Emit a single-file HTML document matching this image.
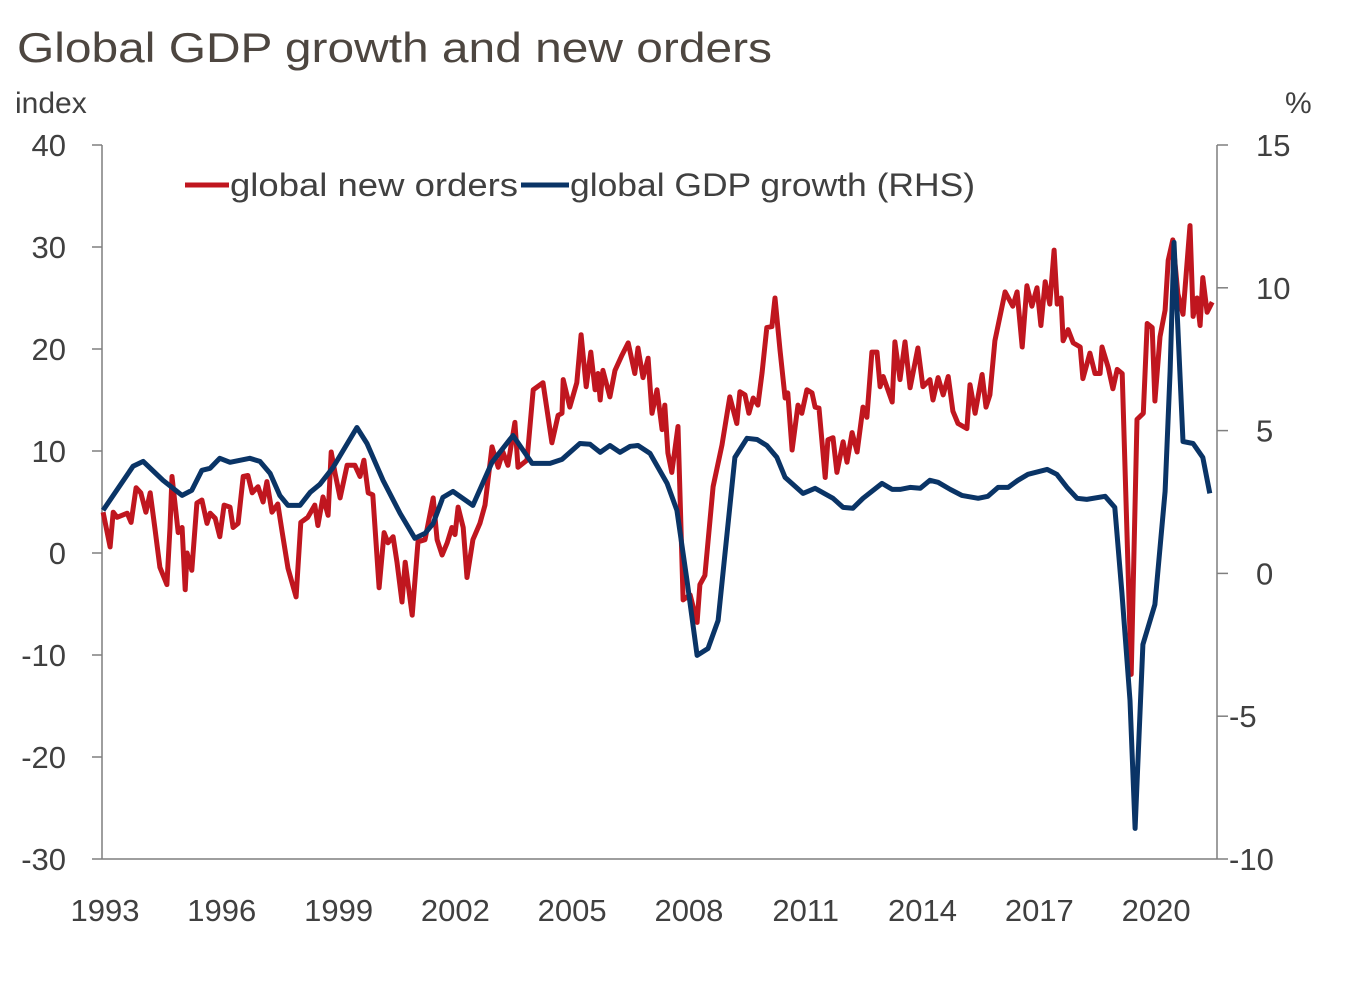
<!DOCTYPE html>
<html><head><meta charset="utf-8"><style>
html,body{margin:0;padding:0;background:#fff;}
svg{display:block;font-family:"Liberation Sans",sans-serif;}
</style></head><body>
<svg id="chart" width="1346" height="992" viewBox="0 0 1346 992">
<text x="17" y="62" font-size="42" fill="#4d4640" textLength="755" lengthAdjust="spacingAndGlyphs">Global GDP growth and new orders</text>
<text x="15" y="113" font-size="30" fill="#404040">index</text>
<text x="1285" y="113" font-size="30" fill="#404040">%</text>
<g id="axes"></g>
<g id="series"></g>
<g>
<line x1="185" y1="185" x2="229" y2="185" stroke="#c0161f" stroke-width="5"/>
<text x="230" y="196" font-size="32" fill="#404040" textLength="288" lengthAdjust="spacingAndGlyphs">global new orders</text>
<line x1="521" y1="185" x2="569" y2="185" stroke="#0a3466" stroke-width="5"/>
<text x="570" y="196" font-size="32" fill="#404040" textLength="405" lengthAdjust="spacingAndGlyphs">global GDP growth (RHS)</text>
</g>
</svg>
<script>
const leftTicks=[40,30,20,10,0,-10,-20,-30];
const rightTicks=[15,10,5,0,-5,-10];
const yearTicks=[1993,1996,1999,2002,2005,2008,2011,2014,2017,2020];
const ordersDates=[1992.95,1993.13,1993.21,1993.31,1993.57,1993.67,1993.80,1993.92,1994.05,1994.16,1994.28,1994.41,1994.59,1994.67,1994.72,1994.88,1994.98,1995.06,1995.11,1995.23,1995.36,1995.49,1995.62,1995.70,1995.83,1995.95,1996.06,1996.21,1996.29,1996.42,1996.55,1996.67,1996.78,1996.93,1997.06,1997.16,1997.29,1997.44,1997.55,1997.70,1997.91,1998.03,1998.21,1998.39,1998.47,1998.60,1998.73,1998.81,1998.91,1999.04,1999.22,1999.42,1999.55,1999.65,1999.76,1999.88,2000.04,2000.17,2000.27,2000.40,2000.50,2000.63,2000.71,2000.89,2001.04,2001.22,2001.43,2001.53,2001.66,2001.79,2001.91,2001.99,2002.07,2002.20,2002.30,2002.45,2002.63,2002.76,2002.94,2003.10,2003.22,2003.35,2003.53,2003.61,2003.84,2004.00,2004.25,2004.48,2004.64,2004.74,2004.77,2004.94,2005.12,2005.23,2005.36,2005.48,2005.59,2005.66,2005.72,2005.79,2005.97,2006.10,2006.28,2006.44,2006.61,2006.69,2006.82,2006.95,2007.05,2007.18,2007.31,2007.38,2007.46,2007.56,2007.72,2007.85,2008.03,2008.21,2008.28,2008.41,2008.62,2008.85,2009.05,2009.23,2009.31,2009.44,2009.54,2009.65,2009.77,2009.88,2010.00,2010.13,2010.21,2010.34,2010.47,2010.54,2010.65,2010.80,2010.90,2011.03,2011.16,2011.24,2011.34,2011.50,2011.57,2011.70,2011.80,2011.96,2012.06,2012.19,2012.32,2012.47,2012.57,2012.70,2012.83,2012.91,2012.99,2013.22,2013.29,2013.42,2013.55,2013.68,2013.88,2014.01,2014.19,2014.27,2014.40,2014.53,2014.66,2014.78,2014.91,2015.14,2015.22,2015.35,2015.53,2015.63,2015.73,2015.86,2016.12,2016.32,2016.43,2016.56,2016.68,2016.81,2016.94,2017.04,2017.15,2017.27,2017.38,2017.46,2017.56,2017.61,2017.74,2017.87,2018.05,2018.12,2018.30,2018.43,2018.56,2018.61,2018.77,2018.89,2019.00,2019.13,2019.36,2019.51,2019.67,2019.77,2019.90,2019.97,2020.10,2020.23,2020.31,2020.43,2020.56,2020.69,2020.87,2020.95,2021.05,2021.13,2021.20,2021.31,2021.44];
const ordersValues=[4.0,0.6,4.0,3.5,3.9,3.0,6.4,5.9,4.0,5.9,2.5,-1.4,-3.1,2.5,7.5,2.0,2.5,-3.6,0.0,-1.7,4.9,5.2,2.9,3.9,3.4,1.6,4.7,4.5,2.5,2.9,7.5,7.6,5.9,6.5,5.0,7.0,4.0,4.8,2.1,-1.5,-4.3,3.0,3.5,4.7,2.7,5.5,3.7,9.9,7.8,5.4,8.6,8.6,7.5,9.1,5.9,5.7,-3.4,2.0,1.0,1.6,-0.9,-4.8,-0.9,-6.1,1.1,1.3,5.4,1.3,-0.2,1.0,2.5,1.8,4.5,2.5,-2.4,1.3,2.9,4.7,10.4,8.4,9.9,8.6,12.8,8.4,9.1,16.0,16.7,10.8,13.5,13.7,17.0,14.3,16.7,21.4,16.3,19.7,16.0,17.6,15.0,17.9,15.3,17.9,19.4,20.6,17.6,20.1,17.2,19.1,13.7,16.0,12.1,14.5,9.8,7.9,12.4,-4.6,-4.1,-6.8,-3.1,-2.2,6.5,10.6,15.3,12.7,15.8,15.5,13.7,15.2,14.5,17.7,22.1,22.2,25.0,19.9,15.2,15.7,10.1,14.5,13.7,16.0,15.7,14.3,14.2,7.4,11.1,11.3,7.9,10.9,8.9,11.8,9.9,14.3,13.3,19.7,19.7,16.3,17.3,14.8,20.7,17.0,20.7,16.2,20.1,16.3,17.0,15.0,17.2,15.5,17.3,13.9,12.7,12.2,16.5,13.7,17.5,14.3,15.5,20.8,25.6,24.2,25.6,20.2,26.2,24.2,26.0,22.3,26.6,24.4,29.7,24.4,25.0,20.8,21.9,20.6,20.2,17.1,19.6,17.6,17.6,20.2,18.2,16.1,18.0,17.6,-11.9,13.1,13.7,22.5,22.1,14.9,21.2,23.8,28.7,30.7,25.4,23.4,32.1,23.2,25.0,22.3,27.0,23.6,24.6];
const gdpDates=[1992.95,1993.72,1993.98,1994.49,1994.98,1995.23,1995.49,1995.70,1995.95,1996.21,1996.72,1996.98,1997.24,1997.49,1997.70,1998.01,1998.27,1998.52,1998.86,1999.47,1999.73,2000.14,2000.58,2000.96,2001.22,2001.43,2001.68,2001.94,2002.45,2002.94,2003.48,2003.97,2004.43,2004.74,2005.20,2005.46,2005.72,2005.97,2006.23,2006.49,2006.69,2007.00,2007.44,2007.69,2007.95,2008.21,2008.49,2008.75,2009.18,2009.49,2009.75,2010.00,2010.26,2010.47,2010.93,2011.24,2011.70,2011.96,2012.21,2012.47,2012.96,2013.22,2013.42,2013.68,2013.94,2014.19,2014.40,2014.71,2015.01,2015.43,2015.68,2015.94,2016.20,2016.45,2016.71,2017.20,2017.45,2017.71,2017.97,2018.22,2018.69,2018.94,2019.12,2019.33,2019.46,2019.66,2019.97,2020.23,2020.36,2020.46,2020.69,2020.95,2021.20,2021.38];
const gdpValues=[2.21,3.75,3.92,3.26,2.73,2.91,3.61,3.68,4.03,3.89,4.03,3.92,3.50,2.73,2.38,2.38,2.84,3.12,3.71,5.11,4.55,3.26,2.10,1.23,1.40,1.75,2.66,2.87,2.38,3.89,4.83,3.85,3.85,3.99,4.55,4.52,4.24,4.48,4.24,4.45,4.48,4.20,3.15,2.21,-0.25,-2.87,-2.63,-1.65,4.06,4.73,4.69,4.48,4.06,3.36,2.80,2.98,2.63,2.31,2.28,2.63,3.15,2.94,2.94,3.01,2.98,3.26,3.19,2.94,2.73,2.63,2.70,3.01,3.01,3.26,3.47,3.64,3.47,3.01,2.63,2.59,2.70,2.31,-0.67,-4.45,-8.93,-2.49,-1.09,2.87,7.07,11.59,4.62,4.55,4.06,2.80];

const NS='http://www.w3.org/2000/svg';
const PL=102,PR=1217,PT=145,PB=859;
function xS(yr){return 105+(yr-1993)*38.93;}
function yL(v){return PT+(40-v)*(PB-PT)/70;}
function yR(v){return PT+(15-v)*(PB-PT)/25;}
function mk(tag,attrs,parent){const e=document.createElementNS(NS,tag);for(const k in attrs)e.setAttribute(k,attrs[k]);parent.appendChild(e);return e;}
const axes=document.getElementById('axes');
const ax='#7f7f7f',tc='#404040';
let e;
e=mk('line',{x1:PL,y1:PT,x2:PL,y2:PB,stroke:ax,'stroke-width':1.5},axes);


e=mk('line',{x1:PR,y1:PT,x2:PR,y2:PB,stroke:ax,'stroke-width':1.5},axes);


e=mk('line',{x1:PL,y1:PB,x2:PR,y2:PB,stroke:ax,'stroke-width':1.5},axes);


leftTicks.forEach(v=>{
  const y=yL(v);
  const t=mk('line',{x1:PL-10,y1:y,x2:PL,y2:y,stroke:ax,'stroke-width':1.5},axes);
  
  
  const l=mk('text',{x:66,y:y+11,'font-size':31,fill:tc,'text-anchor':'end'},axes);
  l.textContent=String(v);
  
  
});
rightTicks.forEach(v=>{
  const y=yR(v);
  const t=mk('line',{x1:PR,y1:y,x2:PR+11,y2:y,stroke:ax,'stroke-width':1.5},axes);
  
  
  const l=mk('text',{x:v<0?1229:1256,y:y+11,'font-size':31,fill:tc},axes);
  l.textContent=String(v);
  
  
});
yearTicks.forEach(yr=>{
  const l=mk('text',{x:xS(yr),y:921,'font-size':31,fill:tc,'text-anchor':'middle'},axes);
  l.textContent=String(yr);
  
  
});
const ser=document.getElementById('series');
const pOrders=ordersDates.map((d,i)=>xS(d).toFixed(1)+','+yL(ordersValues[i]).toFixed(1)).join(' ');
const r=mk('polyline',{points:pOrders,fill:'none',stroke:'#c0161f','stroke-width':5,'stroke-linejoin':'round'},ser);


const pGdp=gdpDates.map((d,i)=>xS(d).toFixed(1)+','+yR(gdpValues[i]).toFixed(1)).join(' ');
const b=mk('polyline',{points:pGdp,fill:'none',stroke:'#0a3466','stroke-width':5,'stroke-linejoin':'round'},ser);


</script>
</body></html>
